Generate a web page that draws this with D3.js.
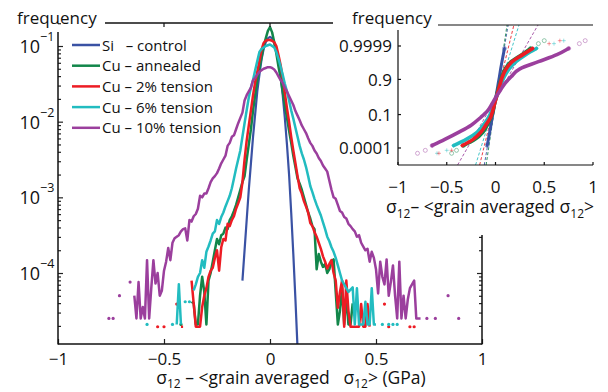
<!DOCTYPE html>
<html>
<head>
<meta charset="utf-8">
<script src="https://cdn.jsdelivr.net/npm/d3@7"></script>
<style>
  body { margin: 0; background: #fff; }
  svg { display: block; font-family: "Open Sans", sans-serif; }
</style>
</head>
<body>
<svg id="chart" width="608" height="392"></svg>
<script>
// ---- histogram data: bins of 0.01 GPa, values are log10(frequency), null = empty bin
const binStep = 0.01;
const seriesNames = ['Si   \u2013 control', 'Cu \u2013 annealed', 'Cu \u2013 2% tension', 'Cu \u2013 6% tension', 'Cu \u2013 10% tension'];
const seriesColors = ['#3a52a4', '#12864a', '#ed1c24', '#22bcc0', '#9b3f9d'];
const binStarts = [-0.13, -0.42, -0.53, -0.58, -0.76];

const logSi = [-4.1, -3.7, -3.3, -2.9, -2.55, -2.2, -1.9, -1.6, -1.38, -1.18, -1.04, -0.95, -0.9,
  -0.88, -0.9, -0.96, -1.06, -1.2, -1.4, -1.65, -1.95, -2.3, -2.7, -3.2, -3.75, -4.35, -5.0];

const logAnnealed = [-4.68, null, null, null, null, -4.38, -4.4, -4.68, -4.68, -4.3,
  -4.05, -4.25, -4.68, -4.1, -4.0, -3.85, -3.7, -3.55, -3.62, -3.5,
  -3.48, -3.4, -3.42, -3.3, -3.25, -3.18, -3.1, -3.0, -2.9, -2.8,
  -2.72, -2.5, -2.3, -2.1, -1.85, -1.65, -1.45, -1.3, -1.15, -1.0,
  -0.9, -0.8, -0.75,
  -0.82, -0.95, -1.1, -1.27, -1.42, -1.6, -1.78, -1.95, -2.12, -2.28,
  -2.45, -2.6, -2.75, -2.82, -2.9, -3.0, -3.1, -3.2, -3.28, -3.38,
  -3.42, -3.95, -3.75, -3.85, -3.92, -3.88, -4.0, -3.95, -3.85, -3.82,
  -4.25, -4.68, -4.5, -4.2, -4.68, -4.3, -4.68, -4.68, -4.4];

const logCu2 = [-4.71, null, null, -4.71, null, null, null, null, null, -4.41,
  null, -4.71, -4.71, null, null, null, -4.1, -4.4, -4.71, -4.71,
  -4.71, -4.45, -4.3, -4.2, -4.05, -3.97, -3.93, -3.8, -3.7, -3.97,
  -3.66, -3.55, -3.57, -3.35, -3.38, -3.3, -3.25, -3.15, -3.08, -3.0,
  -2.8, -2.5, -2.25, -2.05, -1.85, -1.65, -1.48, -1.34, -1.2, -1.05,
  -0.96, -0.93, -0.92, -0.92,
  -0.93, -0.95, -1.0, -1.12, -1.25, -1.42, -1.62, -1.82, -2.0, -2.2,
  -2.38, -2.55, -2.72, -2.88, -2.95, -3.05, -3.12, -3.2, -3.34, -3.38,
  -3.46, -3.52, -3.6, -3.68, -3.78, -3.85, -3.94, -3.88, -3.83, -4.0,
  -4.1, -4.46, -4.25, -4.1, -4.71, -4.1, -4.5, -4.71, -4.71, -4.71,
  -4.71, -4.71, -4.41, -4.71, -4.71, -4.41, -4.71,
  null, null, null, null, null, null, -4.41, null, -4.71,
  null, null, null, null, null, null, null, null, null, -4.71, null, -4.71];

const logCu6 = [-4.68, null, null, null, null, null, null, null, null, null,
  null, null, -4.68, null, -4.68, -4.15, -4.68, null, -4.38, null,
  -4.38, null, -4.23, -4.15, -4.05, -4.0, -3.83, -3.93, -3.72, -3.65,
  -3.57, -3.48, -3.45, -3.3, -3.35, -3.26, -3.2, -3.12, -3.05, -2.98,
  -2.88, -2.75, -2.62, -2.5, -2.38, -2.2, -2.02, -1.85, -1.68, -1.55,
  -1.45, -1.32, -1.2, -1.08, -1.04, -1.02, -1.0, -0.99, -0.98,
  -1.0, -1.02, -1.08, -1.17, -1.27, -1.38, -1.5, -1.6, -1.72, -1.85,
  -1.96, -2.08, -2.2, -2.32, -2.42, -2.5, -2.6, -2.72, -2.85, -2.93,
  -3.02, -3.1, -3.17, -3.24, -3.33, -3.42, -3.52, -3.58, -3.66, -3.72,
  -3.8, -3.9, -4.0, -4.1, -4.15, -4.2, -4.25, -4.22, -4.19, -4.68,
  -4.2, -4.68, -4.68, -4.68, -4.38, -4.68, -4.68, -4.2, -4.68, -4.68,
  null, null, -4.68, null, null, -4.68, null, -4.68, null, -4.68];

const logCu10 = [-4.6, null, -4.6, null, null, -4.3, null, null, null, null,
  -4.12, null, -4.3, -4.6, -4.12, -4.6, -4.45, -4.6, -3.83, -4.6,
  -4.2, -3.83, -4.14, -4.0, -4.3, -4.23, -3.97, -3.85, -3.67, -3.83,
  -3.6, -3.54, -3.52, -3.5, -3.45, -3.42, -3.41, -3.57, -3.3, -3.32,
  -3.25, -3.22, -3.15, -2.98, -3.0, -2.95, -2.95, -2.88, -2.8, -2.75,
  -2.72, -2.68, -2.62, -2.55, -2.5, -2.45, -2.32, -2.28, -2.2, -2.18,
  -2.1, -2.02, -1.95, -1.88, -1.72, -1.65, -1.6, -1.55, -1.45, -1.42,
  -1.38, -1.34, -1.32, -1.3, -1.29, -1.28, -1.28,
  -1.29, -1.31, -1.35, -1.4, -1.45, -1.49, -1.55, -1.6, -1.66, -1.72,
  -1.78, -1.86, -1.92, -1.98, -2.05, -2.1, -2.15, -2.22, -2.28, -2.32,
  -2.38, -2.42, -2.48, -2.52, -2.58, -2.62, -2.66, -2.78, -2.9, -3.0,
  -3.02, -3.1, -3.18, -3.2, -3.26, -3.28, -3.35, -3.38, -3.42, -3.45,
  -3.52, -3.5, -3.6, -3.65, -3.7, -3.68, -3.85, -3.72, -3.8, -3.95,
  -4.27, -3.85, -4.05, -4.15, -3.82, -4.3, -4.12, -3.9, -4.3, -4.6,
  -3.85, -4.6, -4.3, -4.6, -4.35, -4.2, -4.15, -4.1, -4.6, -4.6,
  -4.6, null, null, -4.6, null, null, null, -4.6, null, null,
  null, null, null, -4.3, null, null, null, null, -4.6];

const histLogs = [logSi, logAnnealed, logCu2, logCu6, logCu10];

// ---- inset: normal probability plot, stress value at each cumulative probability
const qqProb = [0.00002, 0.00005, 0.0002, 0.001, 0.005, 0.02, 0.07, 0.16, 0.31, 0.5,
  0.69, 0.84, 0.93, 0.98, 0.995, 0.999, 0.9998, 0.99995, 0.99998];
const qqSi = [null, null, -0.085, -0.073, -0.06, -0.047, -0.033, -0.02, -0.008, 0.004,
  0.016, 0.028, 0.04, 0.053, 0.066, 0.08, 0.092, null, null];
const qqAnnealed = [-0.45, -0.4, -0.33, -0.21, -0.13, -0.085, -0.045, -0.025, -0.01, 0.008,
  0.025, 0.045, 0.065, 0.1, 0.16, 0.27, 0.36, 0.44, 0.5];
const qqCu2 = [-0.58, -0.45, -0.34, -0.23, -0.15, -0.1, -0.05, -0.028, -0.01, 0.01,
  0.03, 0.05, 0.07, 0.11, 0.17, 0.28, 0.38, 0.55, 0.66];
const qqCu6 = [-0.6, -0.5, -0.43, -0.3, -0.19, -0.125, -0.07, -0.04, -0.015, 0.01,
  0.035, 0.06, 0.09, 0.14, 0.21, 0.31, 0.42, 0.6, 0.7];
const qqCu10 = [-0.8, -0.72, -0.65, -0.52, -0.38, -0.25, -0.15, -0.08, -0.035, 0.005,
  0.05, 0.097, 0.16, 0.25, 0.44, 0.63, 0.75, 0.86, 0.92];
const qqValues = [qqSi, qqAnnealed, qqCu2, qqCu6, qqCu10];
// normal fits (dashed reference lines)
const fitMean = [0.004, 0.008, 0.008, 0.012, 0.012];
const fitSigma = [0.024, 0.021, 0.0344, 0.0436, 0.0808];
const qqTickProbs = [0.0001, 0.1, 0.9, 0.9999];
const qqTickLabels = ['0.0001', '0.1', '0.9', '0.9999'];

const xTicks = [-1, -0.5, 0, 0.5, 1];
const yMajor = [1e-4, 1e-3, 1e-2, 1e-1];
const yMajorLabels = ['\u22124', '\u22123', '\u22122', '\u22121'];

// inverse normal CDF (Acklam), used by the probability axis
function probit(p) {
    const a = [-3.969683028665376e+01, 2.209460984245205e+02, -2.759285104469687e+02, 1.383577518672690e+02, -3.066479806614716e+01, 2.506628277459239e+00];
    const b = [-5.447609879822406e+01, 1.615858368580409e+02, -1.556989798598866e+02, 6.680131188771972e+01, -1.328068155922803e+01];
    const c = [-7.784894002430293e-03, -3.223964580411365e-01, -2.400758277161838e+00, -2.549732539343734e+00, 4.374664141464968e+00, 2.938163982698783e+00];
    const d = [7.784695709041462e-03, 3.224671290700398e-01, 2.445134137142996e+00, 3.754408661907416e+00];
    const pl = 0.02425;
    let q, r;
    if (p < pl) {
        q = Math.sqrt(-2 * Math.log(p));
        return (((((c[0] * q + c[1]) * q + c[2]) * q + c[3]) * q + c[4]) * q + c[5]) / ((((d[0] * q + d[1]) * q + d[2]) * q + d[3]) * q + 1);
    }
    if (p > 1 - pl) {
        q = Math.sqrt(-2 * Math.log(1 - p));
        return -(((((c[0] * q + c[1]) * q + c[2]) * q + c[3]) * q + c[4]) * q + c[5]) / ((((d[0] * q + d[1]) * q + d[2]) * q + d[3]) * q + 1);
    }
    q = p - 0.5;
    r = q * q;
    return (((((a[0] * r + a[1]) * r + a[2]) * r + a[3]) * r + a[4]) * r + a[5]) * q / (((((b[0] * r + b[1]) * r + b[2]) * r + b[3]) * r + b[4]) * r + 1);
}

const svg = d3.select('#chart');
const main = {left: 58, right: 482, top: 23, bottom: 344};

const x = d3.scaleLinear().domain([-1, 1]).range([main.left, main.right]);
const y = d3.scaleLog().domain([1.153e-5, 0.2014]).range([main.bottom, main.top]);

svg.append('defs').append('clipPath').attr('id', 'clipMain')
    .append('rect')
    .attr('x', main.left).attr('y', main.top)
    .attr('width', main.right - main.left).attr('height', main.bottom - main.top);

// ---- main histogram curves
const series = histLogs.map((arr, s) => arr.map((L, i) => ({
    v: +(binStarts[s] + i * binStep).toFixed(2),
    f: L === null ? null : Math.pow(10, L)
})));

const line = d3.line()
    .defined(d => d.f !== null)
    .x(d => x(d.v))
    .y(d => y(d.f));

const plot = svg.append('g').attr('clip-path', 'url(#clipMain)');

series.forEach((pts, s) => {
    plot.append('path')
        .datum(pts)
        .attr('d', line)
        .attr('fill', 'none')
        .attr('stroke', seriesColors[s])
        .attr('stroke-width', s === 0 ? 2.2 : 2.5)
        .attr('stroke-linejoin', 'round');

    // single filled bins between empty ones show as dots
    const lonely = pts.filter((d, i) => d.f !== null
        && (i === 0 || pts[i - 1].f === null)
        && (i === pts.length - 1 || pts[i + 1].f === null));
    plot.selectAll(null)
        .data(lonely)
        .enter().append('circle')
        .attr('cx', d => x(d.v))
        .attr('cy', d => y(d.f))
        .attr('r', 1.6)
        .attr('fill', seriesColors[s]);
});

// ---- main axes
const yMinor = [];
[-5, -4, -3, -2, -1].forEach(e => {
    for (let k = 2; k <= 9; k++) {
        const v = k * Math.pow(10, e);
        if (v > y.domain()[0] && v < y.domain()[1]) yMinor.push(v);
    }
});

const axisStyle = g => {
    g.selectAll('line').attr('stroke', '#222').attr('stroke-width', 1.2);
    g.select('.domain').remove();
};

svg.append('g')
    .attr('transform', 'translate(' + main.left + ',0)')
    .call(d3.axisLeft(y).tickValues(yMajor).tickSizeInner(-5).tickSizeOuter(0).tickFormat(''))
    .call(axisStyle);
svg.append('g')
    .attr('transform', 'translate(' + main.left + ',0)')
    .call(d3.axisLeft(y).tickValues(yMinor).tickSizeInner(-3).tickSizeOuter(0).tickFormat(''))
    .call(axisStyle);

// right edge is only visible below the inset
const rightVisible = v => y(v) > 236;
svg.append('g')
    .attr('transform', 'translate(' + main.right + ',0)')
    .call(d3.axisRight(y).tickValues(yMajor.filter(rightVisible)).tickSizeInner(-5).tickSizeOuter(0).tickFormat(''))
    .call(axisStyle);
svg.append('g')
    .attr('transform', 'translate(' + main.right + ',0)')
    .call(d3.axisRight(y).tickValues(yMinor.filter(rightVisible)).tickSizeInner(-3).tickSizeOuter(0).tickFormat(''))
    .call(axisStyle);

const xAxisG = svg.append('g')
    .attr('transform', 'translate(0,' + main.bottom + ')')
    .call(d3.axisBottom(x).tickValues(xTicks).tickSizeInner(-5).tickSizeOuter(0).tickPadding(9).tickFormat(d3.format('')));
xAxisG.select('.domain').remove();
xAxisG.selectAll('line').attr('stroke', '#222').attr('stroke-width', 1.2);
xAxisG.selectAll('text')
    .attr('font-family', '"Open Sans", sans-serif')
    .attr('font-size', 17)
    .attr('fill', '#111');

// frame lines
const frame = svg.append('g').attr('stroke', '#111').attr('stroke-width', 1.5).attr('fill', 'none');
frame.append('line').attr('x1', main.left).attr('x2', main.left).attr('y1', 32).attr('y2', main.bottom + 0.5);
frame.append('line').attr('x1', main.left).attr('x2', main.right).attr('y1', main.bottom).attr('y2', main.bottom);
frame.append('line').attr('x1', main.right).attr('x2', main.right).attr('y1', 235).attr('y2', main.bottom + 0.5);
frame.append('line').attr('x1', 105).attr('x2', 333).attr('y1', main.top).attr('y2', main.top);
frame.selectAll(null)
    .data([-0.5, 0])
    .enter().append('line')
    .attr('x1', d => x(d)).attr('x2', d => x(d))
    .attr('y1', main.top).attr('y2', main.top + 4)
    .attr('stroke-width', 1.2);

// y tick labels 10^k
const yLab = svg.append('g').attr('fill', '#111');
yLab.selectAll(null)
    .data(yMajor)
    .enter().append('text')
    .attr('x', 40)
    .attr('y', d => y(d) + 7)
    .attr('text-anchor', 'end')
    .attr('font-size', 18)
    .text('10');
yLab.selectAll(null)
    .data(yMajor)
    .enter().append('text')
    .attr('x', 40)
    .attr('y', d => y(d) - 5)
    .attr('font-size', 12.5)
    .text((d, i) => yMajorLabels[i]);

svg.append('text')
    .attr('x', 17).attr('y', 24)
    .attr('font-size', 17)
    .attr('fill', '#111')
    .text('frequency');

// x axis title
const xTitle = svg.append('text')
    .attr('x', 291).attr('y', 384)
    .attr('text-anchor', 'middle')
    .attr('font-size', 17.5)
    .attr('fill', '#111')
    .attr('xml:space', 'preserve');
xTitle.append('tspan').text('\u03c3');
xTitle.append('tspan').attr('dy', 4).attr('font-size', 12).text('12');
xTitle.append('tspan').attr('dy', -4).text(' \u2013 <grain averaged   \u03c3');
xTitle.append('tspan').attr('dy', 4).attr('font-size', 12).text('12');
xTitle.append('tspan').attr('dy', -4).text('> (GPa)');

// legend
const legend = svg.append('g');
seriesNames.forEach((name, i) => {
    const ly = 45 + i * 20.7;
    legend.append('line')
        .attr('x1', 72).attr('x2', 100)
        .attr('y1', ly).attr('y2', ly)
        .attr('stroke', seriesColors[i])
        .attr('stroke-width', 2.5);
    legend.append('text')
        .attr('x', 102).attr('y', ly + 5.5)
        .attr('font-size', 15)
        .attr('fill', '#111')
        .attr('xml:space', 'preserve')
        .text(name);
});

// ---- inset probability plot
const inset = {left: 398, right: 593, top: 25, bottom: 165};
const xi = d3.scaleLinear().domain([-1, 1]).range([inset.left, inset.right]);
const zi = d3.scaleLinear().domain([-4.96, 5.25]).range([inset.bottom, inset.top]);

svg.append('defs').append('clipPath').attr('id', 'clipInset')
    .append('rect')
    .attr('x', inset.left).attr('y', inset.top)
    .attr('width', inset.right - inset.left).attr('height', inset.bottom - inset.top);

const insetPlot = svg.append('g').attr('clip-path', 'url(#clipInset)');

// dashed normal fits
const zEnds = zi.domain();
fitMean.forEach((mu, s) => {
    insetPlot.append('line')
        .attr('x1', xi(mu + fitSigma[s] * zEnds[0]))
        .attr('y1', zi(zEnds[0]))
        .attr('x2', xi(mu + fitSigma[s] * zEnds[1]))
        .attr('y2', zi(zEnds[1]))
        .attr('stroke', seriesColors[s])
        .attr('stroke-width', 1)
        .attr('stroke-dasharray', '3,2')
        .attr('opacity', 0.85);
});

const qqLine = d3.line()
    .defined(d => d.v !== null)
    .curve(d3.curveMonotoneY)
    .x(d => xi(d.v))
    .y(d => zi(d.z));

const drawOrder = [0, 1, 3, 2, 4];
drawOrder.forEach(s => {
    const pts = qqValues[s].map((v, i) => ({v: v, z: probit(qqProb[i])}));
    const core = pts.slice(2, pts.length - 2);
    insetPlot.append('path')
        .datum(core)
        .attr('d', qqLine)
        .attr('fill', 'none')
        .attr('stroke', seriesColors[s])
        .attr('stroke-width', s === 0 ? 3 : 3.6)
        .attr('stroke-linecap', 'round');

    // sparse tail samples as light markers
    const tails = pts.filter((d, i) => d.v !== null && (i <= 2 || i >= pts.length - 3));
    const mk = insetPlot.selectAll(null)
        .data(tails)
        .enter().append('g')
        .attr('transform', d => 'translate(' + xi(d.v) + ',' + zi(d.z) + ')')
        .attr('stroke', seriesColors[s])
        .attr('stroke-width', 0.8)
        .attr('fill', 'none')
        .attr('opacity', 0.55);
    if (s === 2 || s === 3) {
        mk.append('path').attr('d', 'M-2,0H2M0,-2V2');
    } else {
        mk.append('circle').attr('r', 2);
    }
});

// inset axes
const insetFrame = svg.append('g').attr('stroke', '#111').attr('stroke-width', 1.2).attr('fill', 'none');
insetFrame.append('line').attr('x1', inset.left).attr('x2', inset.left).attr('y1', 30).attr('y2', inset.bottom);
insetFrame.append('line').attr('x1', inset.left).attr('x2', inset.right).attr('y1', inset.bottom).attr('y2', inset.bottom);
insetFrame.append('line').attr('x1', 438).attr('x2', inset.right).attr('y1', inset.top).attr('y2', inset.top);
insetFrame.selectAll(null)
    .data(qqTickProbs)
    .enter().append('line')
    .attr('x1', inset.left).attr('x2', inset.left + 3)
    .attr('y1', d => zi(probit(d))).attr('y2', d => zi(probit(d)));
insetFrame.selectAll(null)
    .data(xTicks)
    .enter().append('line')
    .attr('x1', d => xi(d)).attr('x2', d => xi(d))
    .attr('y1', inset.bottom).attr('y2', inset.bottom - 3);

svg.append('g').selectAll(null)
    .data(qqTickProbs)
    .enter().append('text')
    .attr('x', 392)
    .attr('y', d => zi(probit(d)) + 6.5)
    .attr('text-anchor', 'end')
    .attr('font-size', 17)
    .attr('fill', '#111')
    .text((d, i) => qqTickLabels[i]);

svg.append('g').selectAll(null)
    .data(xTicks)
    .enter().append('text')
    .attr('x', d => xi(d))
    .attr('y', 193)
    .attr('text-anchor', 'middle')
    .attr('font-size', 17)
    .attr('fill', '#111')
    .text(d3.format(''));

svg.append('text')
    .attr('x', 352).attr('y', 24)
    .attr('font-size', 17)
    .attr('fill', '#111')
    .text('frequency');

const insetTitle = svg.append('text')
    .attr('x', 490).attr('y', 213)
    .attr('text-anchor', 'middle')
    .attr('font-size', 17.5)
    .attr('fill', '#111');
insetTitle.append('tspan').text('\u03c3');
insetTitle.append('tspan').attr('dy', 5).attr('font-size', 12).text('12');
insetTitle.append('tspan').attr('dy', -5).text('\u2013 <grain averaged \u03c3');
insetTitle.append('tspan').attr('dy', 5).attr('font-size', 12).text('12');
insetTitle.append('tspan').attr('dy', -5).text('>');
</script>
</body>
</html>
